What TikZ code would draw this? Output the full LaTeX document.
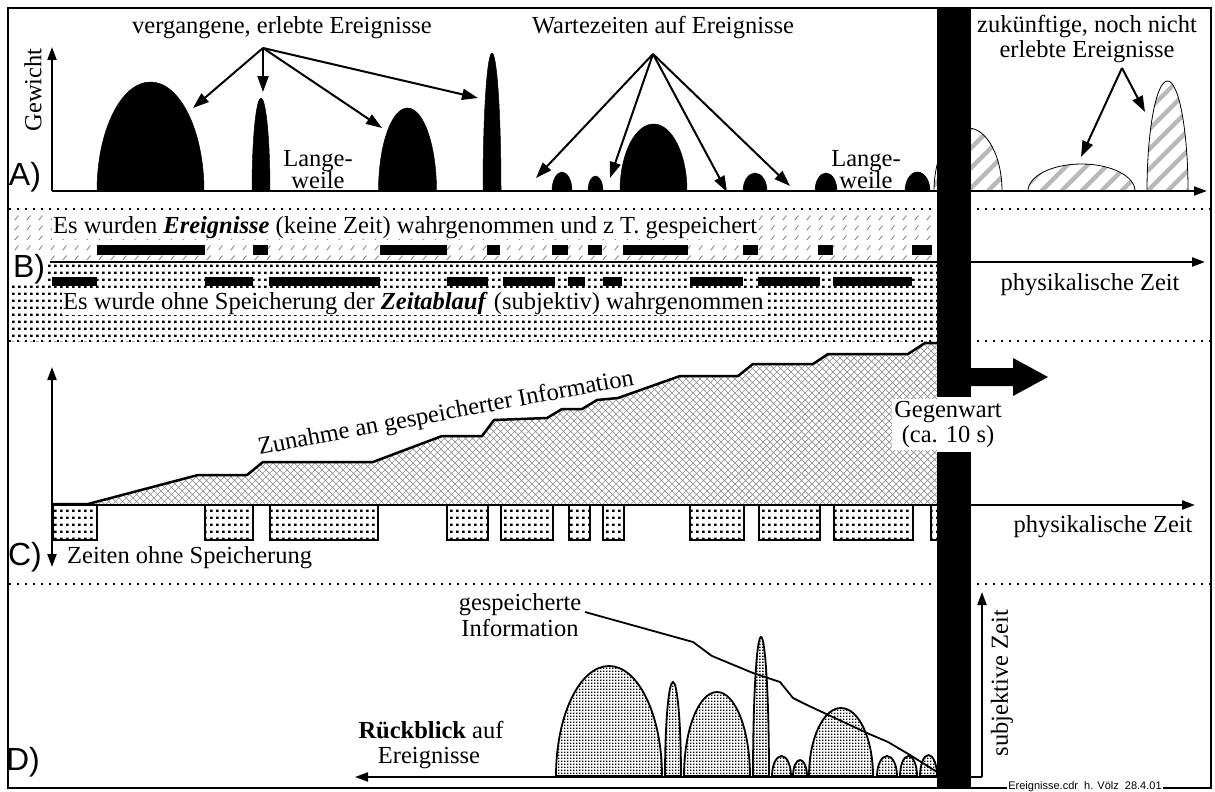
\documentclass[tikz,border=0pt]{standalone}
\usepackage{fontspec}
\setmainfont{Liberation Serif}
\newfontfamily\labelsans{Liberation Sans}
\usetikzlibrary{arrows.meta,patterns}

% fill patterns
\pgfdeclarepatternformonly{densedots}{\pgfqpoint{0pt}{0pt}}{\pgfqpoint{6pt}{7pt}}{\pgfqpoint{6pt}{7pt}}{%
  \pgfpathrectangle{\pgfqpoint{0pt}{0pt}}{\pgfqpoint{3pt}{2.6pt}}\pgfusepath{fill}}
\pgfdeclarepatternformonly{slashmarks}{\pgfqpoint{0pt}{0pt}}{\pgfqpoint{12pt}{10pt}}{\pgfqpoint{12pt}{10pt}}{%
  \pgfsetlinewidth{0.9pt}\pgfpathmoveto{\pgfqpoint{3pt}{2pt}}\pgfpathlineto{\pgfqpoint{7pt}{7pt}}\pgfusepath{stroke}}
\pgfdeclarepatternformonly{xhatch}{\pgfqpoint{-1pt}{-1pt}}{\pgfqpoint{8pt}{8pt}}{\pgfqpoint{7pt}{7pt}}{%
  \pgfsetlinewidth{0.7pt}\pgfpathmoveto{\pgfqpoint{0pt}{0pt}}\pgfpathlineto{\pgfqpoint{7pt}{7pt}}%
  \pgfpathmoveto{\pgfqpoint{0pt}{7pt}}\pgfpathlineto{\pgfqpoint{7pt}{0pt}}\pgfusepath{stroke}}
\pgfdeclarepatternformonly{finegrid}{\pgfqpoint{0pt}{0pt}}{\pgfqpoint{3pt}{3pt}}{\pgfqpoint{3pt}{3pt}}{%
  \pgfpathrectangle{\pgfqpoint{0pt}{0pt}}{\pgfqpoint{1.9pt}{1.9pt}}\pgfusepath{fill}}

% half-ellipse hump: style, centre x, half width, height, base y
\newcommand\hump[5]{%
  \filldraw[#1] (#2-#3,#5) .. controls (#2-#3,#5-0.552*#4) and (#2-0.552*#3,#5-#4) .. (#2,#5-#4)
    .. controls (#2+0.552*#3,#5-#4) and (#2+#3,#5-0.552*#4) .. (#2+#3,#5) -- cycle;}
% striped hump for events still to come
\newcommand\futurehump[3]{%
  \begin{scope}
    \clip (#1-#2,191) .. controls (#1-#2,191-0.552*#3) and (#1-0.552*#2,191-#3) .. (#1,191-#3)
      .. controls (#1+0.552*#2,191-#3) and (#1+#2,191-0.552*#3) .. (#1+#2,191) -- cycle;
    \foreach \k in {-200,-180,...,100}
      \draw[gray!55, line width=4.5pt] (#1+\k,191) -- (#1+\k+200,-9);
  \end{scope}
  \draw[line width=0.8pt] (#1-#2,191) .. controls (#1-#2,191-0.552*#3) and (#1-0.552*#2,191-#3) .. (#1,191-#3)
      .. controls (#1+0.552*#2,191-#3) and (#1+#2,191-0.552*#3) .. (#1+#2,191);}

\begin{document}
\begin{tikzpicture}[x=1pt,y=-1pt,
  lbl/.style={font=\fontsize{24.5}{24.5}\selectfont, inner sep=1pt},
  panel/.style={font=\labelsans\fontsize{32}{32}\selectfont, inner sep=1pt},
  ax/.style={line width=2pt, -{Triangle[length=13pt,width=9pt]}},
  pointer/.style={line width=2pt, -{Triangle[length=16pt,width=11pt]}},
  sep/.style={line width=2pt, dash pattern=on 2pt off 6pt},
  past/.style={fill=black, draw=black, line width=0.5pt},
  stored/.style={pattern=finegrid, draw=black, line width=1.8pt},
  gapbox/.style={pattern=densedots, draw=black, line width=2.5pt},
  bar/.style={fill=black}]
\useasboundingbox (0,0) rectangle (1215,792);

% ---------- A) weighted events ----------
\coordinate (aO) at (52,191);
\coordinate (aUp) at (52,47);
\coordinate (aEnd) at (1207,191);
\hump{past}{150.5}{53.5}{109}{191}
\hump{past}{261}{9}{93}{191}
\hump{past}{407.5}{29}{83}{191}
\hump{past}{492}{9}{138}{191}
\hump{past}{562}{10}{19}{191}
\hump{past}{595.5}{7.5}{15}{191}
\hump{past}{653.5}{33.5}{67}{191}
\hump{past}{755}{12}{18}{191}
\hump{past}{826}{11}{18}{191}
\hump{past}{917.5}{12.5}{19}{191}
\futurehump{968}{34}{63}
\futurehump{1081.5}{53.5}{27}
\futurehump{1167.5}{20.5}{110}
\draw[ax] (aO) -- (aUp);
\draw[ax] (aO) -- (aEnd);
\node[lbl, rotate=90] (gewicht) at (33,90) {Gewicht};
\node[panel] (labA) at (25,177) {A)};

\node[lbl, anchor=base] (pastlbl) at (282,34) {vergangene, erlebte Ereignisse};
\coordinate (ps) at (263,48);
\coordinate (pt1) at (193,108);
\coordinate (pt2) at (263,92);
\coordinate (pt3) at (382,128);
\coordinate (pt4) at (478,98);
\foreach \t in {pt1,pt2,pt3,pt4} \draw[pointer] (ps) -- (\t);

\node[lbl, anchor=base] (waitlbl) at (663,34) {Wartezeiten auf Ereignisse};
\coordinate (ws) at (653,54);
\coordinate (wt1) at (536,178);
\coordinate (wt2) at (610,178);
\coordinate (wt3) at (727,192);
\coordinate (wt4) at (790,186);
\foreach \t in {wt1,wt2,wt3,wt4} \draw[pointer] (ws) -- (\t);

\node[lbl, anchor=base] (bore1a) at (318,166) {Lange-};
\node[lbl, anchor=base] (bore1b) at (318,188) {weile};
\node[lbl, anchor=base] (bore2a) at (866,166) {Lange-};
\node[lbl, anchor=base] (bore2b) at (866,188) {weile};

\node[lbl, anchor=base] (futlbla) at (1087,33) {zukünftige, noch nicht};
\node[lbl, anchor=base] (futlblb) at (1087,58) {erlebte Ereignisse};
\coordinate (fs) at (1122,68);
\coordinate (ft1) at (1081,157);
\coordinate (ft2) at (1145,112);
\foreach \t in {ft1,ft2} \draw[pointer] (fs) -- (\t);

% ---------- B) perceived events / perceived time ----------
\fill[pattern=slashmarks, pattern color=gray] (9,211) rectangle (937,259);
\fill[pattern=densedots] (9,264) rectangle (937,341);
\foreach \a/\b in {97/205,253/268,380/447,487/500,552/568,588/602,623/688,743/758,818/833,912/932}
  \fill (\a,245) rectangle (\b,255);
\foreach \a/\b in {52/97,205/253,269/380,447/488,503/555,568/585,603/622,690/743,758/820,833/912}
  \fill (\a,277) rectangle (\b,286);
\coordinate (bO) at (50,262);
\coordinate (bEnd) at (1205,262);
\draw[ax, line width=2.5pt] (bO) -- (bEnd);
\node[lbl, fill=white, anchor=base west] (evlbl) at (52,233)
  {Es wurden \textbf{\textit{Ereignisse}} (keine Zeit) wahrgenommen und z T. gespeichert};
\node[lbl, fill=white, anchor=base west] (tmlbl) at (62,309)
  {Es wurde ohne Speicherung der \textbf{\textit{Zeitablauf}} (subjektiv) wahrgenommen};
\node[panel, fill=white] (labB) at (29,269) {B)};
\node[lbl, anchor=base] (phys1) at (1090,290) {physikalische Zeit};

% separators
\coordinate (s1a) at (9,209);  \coordinate (s1b) at (1210,209);
\coordinate (s2a) at (9,341);  \coordinate (s2b) at (1210,341);
\coordinate (s3a) at (9,584);  \coordinate (s3b) at (1210,584);
\draw[sep] (s1a) -- (s1b);
\draw[sep] (s2a) -- (s2b);
\draw[sep] (s3a) -- (s3b);

% ---------- C) stored information ----------
\fill[pattern=xhatch, pattern color=gray!85] (88,504) -- (198,475) -- (247,475) -- (263,462) -- (373,462)
  -- (442,436) -- (482,436) -- (494,420) -- (547,418) -- (562,409) -- (582,409) -- (597,400)
  -- (618,398) -- (680,376) -- (738,376) -- (753,364) -- (813,364) -- (828,354) -- (908,354)
  -- (925,343) -- (937,343) -- (937,504) -- cycle;
\draw[line width=2.5pt, line join=round] (52,504) -- (88,504) -- (198,475) -- (247,475) -- (263,462) -- (373,462)
  -- (442,436) -- (482,436) -- (494,420) -- (547,418) -- (562,409) -- (582,409) -- (597,400)
  -- (618,398) -- (680,376) -- (738,376) -- (753,364) -- (813,364) -- (828,354) -- (908,354)
  -- (925,343) -- (937,343);
\foreach \a/\b in {53/97,205/253,270/378,447/488,501/553,569/590,603/624,690/744,759/820,834/913,931/945}
  \filldraw[gapbox] (\a,505) rectangle (\b,540);
\coordinate (cO) at (52,505);
\coordinate (cUp) at (52,367);
\coordinate (cDn) at (52,567);
\coordinate (cEnd) at (1195,505);
\draw[ax] (cO) -- (cUp);
\draw[ax] (cO) -- (cDn);
\draw[ax, line width=2.5pt] (cO) -- (cEnd);
\node[lbl, rotate=10.6] (grow) at (446,414) {Zunahme an gespeicherter Information};
\node[lbl, anchor=base west] (nostore) at (66,563) {Zeiten ohne Speicherung};
\node[panel] (labC) at (25,557) {C)};
\node[lbl, anchor=base] (phys2) at (1103,532) {physikalische Zeit};

% ---------- D) looking back ----------
\hump{stored}{609}{53}{110}{776}
\hump{stored}{673}{8}{94}{776}
\hump{stored}{717}{33}{84}{776}
\hump{stored}{761}{8}{139}{776}
\hump{stored}{781.5}{9.5}{20}{776}
\hump{stored}{800}{7}{16}{776}
\hump{stored}{841}{32}{68}{776}
\hump{stored}{887}{10}{20}{776}
\hump{stored}{908.5}{8.5}{20}{776}
\hump{stored}{928.5}{8.5}{21}{776}
\coordinate (dO) at (982,777);
\coordinate (dUp) at (982,592);
\coordinate (dEnd) at (355,777);
\draw[ax] (dO) -- (dUp);
\draw[ax] (dO) -- (dEnd);
\node[lbl, anchor=base] (storedlbla) at (520,610) {gespeicherte};
\node[lbl, anchor=base] (storedlblb) at (520,636) {Information};
\draw[line width=1.8pt, line join=round] (585,612) -- (693,642) -- (712,656) -- (753,673) -- (780,682)
  -- (793,698) -- (807,705) -- (867,733) -- (888,742) -- (910,755) -- (937,772);
\node[lbl, anchor=base] (lookbacka) at (431,738) {\textbf{Rückblick} auf};
\node[lbl, anchor=base] (lookbackb) at (429,763) {Ereignisse};
\node[lbl, rotate=90] (subj) at (1002,683) {subjektive Zeit};
\node[panel] (labD) at (23,762) {D)};

% ---------- present: black bar and arrow ----------
\fill[bar] (937,8) rectangle (971,397);
\fill[bar] (937,452) rectangle (971,788);
\fill[bar] (971,368) -- (1013,368) -- (1013,358) -- (1048,377) -- (1013,396) -- (1013,386) -- (971,386) -- cycle;
\fill[white] (892,399) rectangle (1004,450);
\node[lbl, anchor=base] (nowa) at (948,417) {Gegenwart};
\node[lbl, anchor=base] (nowb) at (948,442) {(ca. 10 s)};

% frame and imprint
\draw[line width=2.5pt] (8,8) rectangle (1211,788);
\node[fill=white, inner sep=1.5pt, font=\labelsans\fontsize{11}{11}\selectfont] (imprint) at (1085,787)
  {Ereignisse.cdr\ \ h. Völz\ \ 28.4.01};
\end{tikzpicture}
\end{document}
